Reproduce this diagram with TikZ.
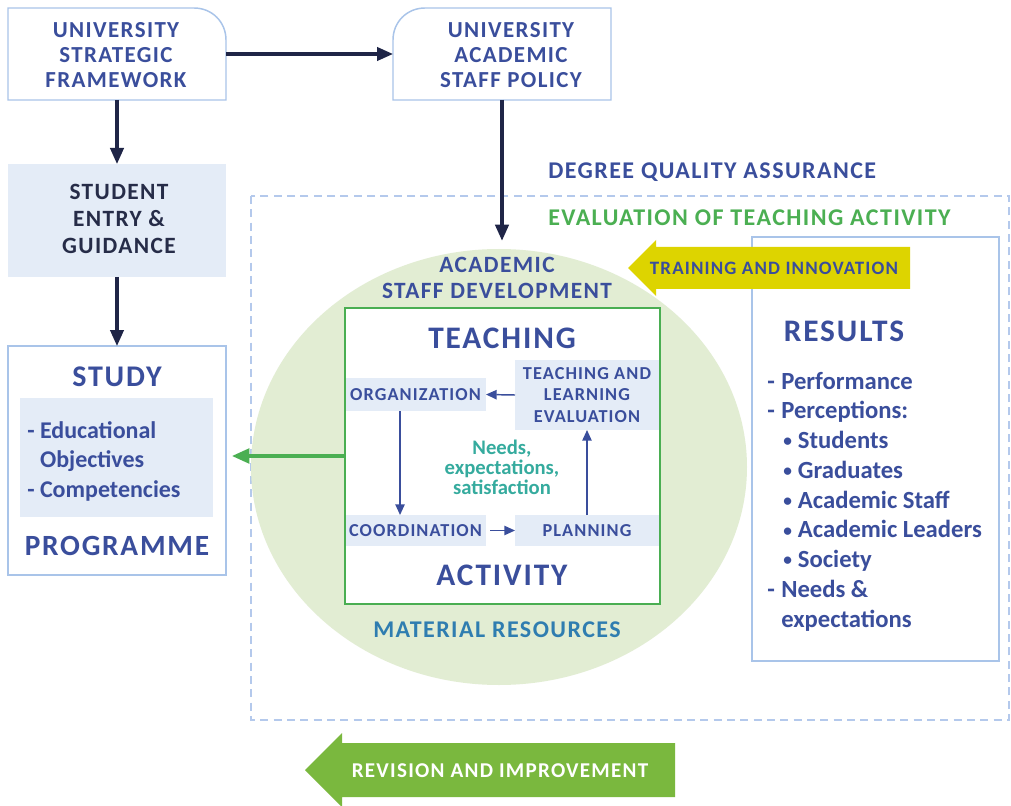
\documentclass[tikz,border=0pt]{standalone}
\usepackage{fontspec}
\setmainfont{Carlito}
\newfontfamily\trackfont{Carlito}[LetterSpace=6.0]
\usetikzlibrary{arrows.meta,calc,shapes.geometric}

\definecolor{txtblue}{HTML}{3A4E9C}
\definecolor{navy}{HTML}{1F2547}
\definecolor{darktxt}{HTML}{262C48}
\definecolor{boxline}{HTML}{A9C4E9}
\definecolor{paleblue}{HTML}{E4ECF7}
\definecolor{dashblue}{HTML}{B4C9EC}
\definecolor{evalgreen}{HTML}{4BAF52}
\definecolor{ellgreen}{HTML}{E2EDD3}
\definecolor{framegreen}{HTML}{4AAE52}
\definecolor{needsteal}{HTML}{35AB9E}
\definecolor{resblue}{HTML}{2F7DB0}
\definecolor{trainyellow}{HTML}{DDD400}
\definecolor{revgreen}{HTML}{7AB83E}

\newcommand\fs[2]{\fontsize{#1}{#2}\selectfont}
% small list bullet with its gap
\newcommand\listbullet{\hspace{12pt}\makebox[11pt][l]{\raisebox{1.3pt}{\fs{13}{13}•}}}
\newcommand\listdash{\makebox[10.5pt][l]{-}}

\tikzset{
  frame/.style={draw=boxline, line width=1.1pt},
  area/.style={shape=rectangle, inner sep=0pt, outer sep=0pt},
  lbl/.style={font=\bfseries\trackfont, text=txtblue, align=center, inner sep=0pt},
  plain/.style={font=\bfseries, text=txtblue, align=left, inner sep=0pt},
  darrow/.style={draw=navy, line width=2.3pt, -{Triangle[length=12pt,width=10pt]}},
  iarrow/.style={draw=txtblue, line width=1.1pt, -{Triangle[length=8pt,width=7pt]}},
  garrow/.style={draw=evalgreen, line width=2.4pt, -{Triangle[length=13pt,width=11pt]}},
}

\begin{document}
\begin{tikzpicture}[x=0.75pt,y=-0.75pt]
\useasboundingbox (0,0) rectangle (1011,806);
\fill[white] (0,0) rectangle (1011,806);

% ---- top policy boxes ----
\node[area, minimum width=163.5pt, minimum height=69pt] (usf) at (117,54) {};
\draw[frame] (usf.south west) -- (usf.north west) -- ($(usf.north east)+(-32,0)$)
  .. controls ($(usf.north east)+(-14,0)$) and ($(usf.north east)+(0,14)$) .. ($(usf.north east)+(0,32)$)
  -- (usf.south east) -- cycle;
\node[lbl, font=\bfseries\trackfont\fs{17.2}{18.75}] (usft) at (116,55) {UNIVERSITY\\STRATEGIC\\FRAMEWORK};

\node[area, minimum width=163.5pt, minimum height=69pt] (uasp) at (502,54) {};
\draw[frame] (uasp.south west) -- ($(uasp.north west)+(0,32)$)
  .. controls ($(uasp.north west)+(0,14)$) and ($(uasp.north west)+(14,0)$) .. ($(uasp.north west)+(32,0)$)
  -- (uasp.north east) -- (uasp.south east) -- cycle;
\node[lbl, font=\bfseries\trackfont\fs{17.2}{18.75}] (uaspt) at (511,55) {UNIVERSITY\\ACADEMIC\\STAFF POLICY};

% ---- student entry ----
\node[area, fill=paleblue, minimum width=163.5pt, minimum height=84.75pt] (seg) at (117,220.5) {};
\node[lbl, text=darktxt, font=\bfseries\trackfont\fs{17.5}{20}] (segt) at (119,219) {STUDENT\\ENTRY \&\\GUIDANCE};

% ---- study programme ----
\node[area, frame, fill=white, minimum width=163.5pt, minimum height=171.75pt] (study) at (117,460.5) {};
\node[area, fill=paleblue, minimum width=144.75pt, minimum height=89.25pt] (obj) at (116.5,457.5) {};
\node[lbl, font=\bfseries\trackfont\fs{22.5}{26}] (studyt) at (117,377) {STUDY};
\node[lbl, font=\bfseries\trackfont\fs{22}{26}] (progt) at (117,546) {PROGRAMME};
\node[plain, anchor=base west, font=\bfseries\fs{18}{22}] (objt) at (27,497)
  {- Educational\\\phantom{- }Objectives\\- Competencies};

% ---- quality assurance frame ----
\draw[dashblue, line width=1pt, dash pattern=on 6pt off 4pt] (251,196) rectangle (1009,720);
\node[lbl, anchor=west, font=\bfseries\trackfont\fs{18}{20}] (dqa) at (548,172) {DEGREE QUALITY ASSURANCE};
\node[lbl, anchor=west, text=evalgreen, font=\bfseries\trackfont\fs{18}{20}] (eta) at (548,218) {EVALUATION OF TEACHING ACTIVITY};

% ---- staff development ellipse ----
\node[ellipse, fill=ellgreen, minimum width=372pt, minimum height=327pt, inner sep=0pt] (esd) at (499,467) {};
\node[lbl, font=\bfseries\trackfont\fs{17.5}{19.5}] (esdt) at (497,278) {ACADEMIC\\STAFF DEVELOPMENT};
\node[lbl, text=resblue, font=\bfseries\trackfont\fs{18}{20}] (matt) at (497,630) {MATERIAL RESOURCES};

% ---- teaching activity ----
\node[area, fill=white, minimum width=236.25pt, minimum height=222pt] (act) at (502.5,456) {};
\node[area, fill=paleblue, minimum width=105.75pt, minimum height=24.75pt] (org) at (415.5,394.5) {};
\node[area, fill=paleblue, minimum width=108pt, minimum height=52.5pt] (tle) at (587,395) {};
\node[area, fill=paleblue, minimum width=105.75pt, minimum height=23.25pt] (coord) at (415.5,530.5) {};
\node[area, fill=paleblue, minimum width=108pt, minimum height=23.25pt] (plan) at (587,530.5) {};
\draw[draw=framegreen, line width=1.5pt] (act.north west) rectangle (act.south east);

\node[lbl, font=\bfseries\trackfont\fs{23.5}{26}] (teach) at (502,338) {TEACHING};
\node[lbl, font=\bfseries\trackfont\fs{23.5}{26}] (activ) at (502,575) {ACTIVITY};
\node[lbl, font=\bfseries\trackfont\fs{13.7}{16}] (orgt) at (org) {ORGANIZATION};
\node[lbl, font=\bfseries\trackfont\fs{13.7}{16}] (tlet) at (tle) {TEACHING AND\\LEARNING\\EVALUATION};
\node[lbl, font=\bfseries\trackfont\fs{13.7}{16}] (coordt) at (coord) {COORDINATION};
\node[lbl, font=\bfseries\trackfont\fs{13.7}{16}] (plant) at (plan) {PLANNING};
\node[lbl, text=needsteal, font=\bfseries\fs{15.5}{15}] (needs) at (502,467) {Needs,\\expectations,\\satisfaction};

\draw[iarrow] (tle.west) -- (org.east);
\draw[iarrow] ([xshift=-11.6pt]org.south) -- ([xshift=-11.6pt]coord.north);
\draw[iarrow] ([xshift=3pt]coord.east) -- (plan.west);
\draw[iarrow] (plan.north) -- (tle.south);

% ---- results ----
\node[area, frame, fill=white, minimum width=185.25pt, minimum height=318pt] (res) at (875.5,449) {};
\node[lbl, font=\bfseries\trackfont\fs{23.5}{26}] (rest) at (844,331) {RESULTS};
\node[plain, anchor=base west, font=\bfseries\fs{18.5}{22.3}] (resl) at (767,627) {%
  \listdash Performance\\
  \listdash Perceptions:\\
  \listbullet Students\\
  \listbullet Graduates\\
  \listbullet Academic Staff\\
  \listbullet Academic Leaders\\
  \listbullet Society\\
  \listdash Needs \&\\
  \hspace{10.5pt}expectations};

% ---- training and innovation arrow ----
\fill[trainyellow] (628,268) -- (656,240) -- (656,247) -- (910,247) -- (910,289) -- (656,289) -- (656,296) -- cycle;
\node[lbl, font=\bfseries\trackfont\fs{14.2}{16}] (train) at (774,268) {TRAINING AND INNOVATION};

% ---- revision and improvement arrow ----
\fill[revgreen] (305,770) -- (342,733) -- (342,743) -- (675,743) -- (675,797) -- (342,797) -- (342,807) -- cycle;
\node[lbl, text=white, font=\bfseries\trackfont\fs{15.8}{18}] (rev) at (500,771) {REVISION AND IMPROVEMENT};

% ---- connectors ----
\draw[darrow] (usf.east) -- (uasp.west);
\draw[darrow] (usf.south) -- (seg.north);
\draw[darrow] (seg.south) -- (study.north);
\draw[darrow, shorten >=6pt] (uasp.south) -- (uasp.south |- esd.north);
\draw[garrow, shorten >=4.5pt] (act.west) -- (act.west -| study.east);
\end{tikzpicture}
\end{document}
